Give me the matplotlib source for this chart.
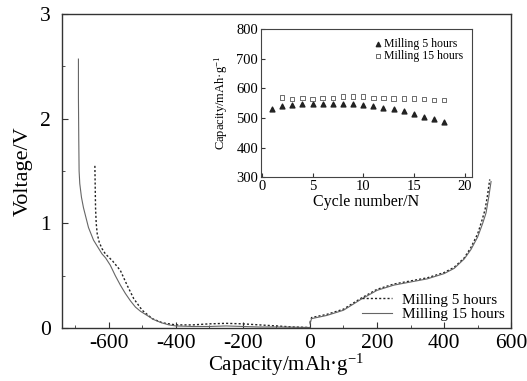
import numpy as np
import matplotlib.pyplot as plt

plt.rcParams['font.family'] = ['Liberation Serif', 'DejaVu Serif']
plt.rcParams['mathtext.fontset'] = 'stix'
plt.rcParams['axes.unicode_minus'] = False

# main plot: discharge (negative capacity) and charge curves
cap15_dis = [-690, -690, -689, -688, -686, -681, -675, -660, -645, -620, -609, -595,
             -580, -565, -550, -535, -520, -505, -490, -465, -442, -420, -400, -350,
             -300, -250, -200, -150, -100, -50, 0]
v15_dis = [2.57, 2.2, 1.8, 1.5, 1.38, 1.25, 1.15, 0.96, 0.84, 0.71, 0.67, 0.6,
           0.5, 0.41, 0.33, 0.26, 0.2, 0.16, 0.13, 0.08, 0.05, 0.03, 0.02, 0.015,
           0.015, 0.02, 0.015, 0.01, 0.01, 0.008, 0.005]
cap5_dis = [-641, -640, -639, -637, -634, -628, -620, -610, -588, -565, -545, -525,
            -500, -470, -440, -400, -350, -300, -250, -200, -150, -100, -50, 0]
v5_dis = [1.55, 1.35, 1.15, 1.0, 0.9, 0.82, 0.76, 0.71, 0.64, 0.55, 0.41, 0.28,
          0.17, 0.09, 0.05, 0.03, 0.03, 0.04, 0.045, 0.04, 0.03, 0.02, 0.01, 0.005]

cap15_chg = [0, 5, 20, 50, 100, 150, 200, 250, 300, 350, 400, 430, 460, 480, 500,
             515, 525, 533, 540]
v15_chg = [0.04, 0.09, 0.1, 0.12, 0.17, 0.27, 0.36, 0.41, 0.44, 0.47, 0.52, 0.57,
           0.66, 0.75, 0.87, 1.0, 1.1, 1.25, 1.4]
cap5_chg = [0, 5, 20, 50, 100, 150, 200, 250, 300, 350, 400, 430, 460, 480, 500,
            512, 522, 530, 536]
v5_chg = [0.05, 0.1, 0.11, 0.13, 0.18, 0.28, 0.37, 0.42, 0.45, 0.48, 0.53, 0.58,
          0.67, 0.77, 0.9, 1.02, 1.13, 1.28, 1.42]

# inset: cycling capacity
cycles5 = list(range(1, 19))
capac5 = [530, 540, 545, 546, 549, 548, 547, 547, 547, 544, 541, 535, 530, 523,
          513, 505, 496, 486]
cycles15 = list(range(2, 19))
capac15 = [569, 564, 567, 565, 568, 568, 573, 573, 573, 568, 568, 566, 566, 566,
           564, 561, 561]

fig = plt.figure(figsize=(5.27, 3.81), dpi=100)
ax = fig.add_axes([0.117, 0.139, 0.853, 0.824])

l5, = ax.plot(cap5_dis, v5_dis, ls=(0, (1.5, 1.5)), color='#222222', lw=1.0)
ax.plot(cap5_chg, v5_chg, ls=(0, (1.5, 1.5)), color='#222222', lw=1.0)
l15, = ax.plot(cap15_dis, v15_dis, ls='-', color='#666666', lw=0.8)
ax.plot(cap15_chg, v15_chg, ls='-', color='#666666', lw=0.8)

ax.set_xlim(-740, 600)
ax.set_ylim(0, 3)
ax.set_xticks(np.arange(-600, 601, 200))
ax.set_xticks(np.arange(-700, 601, 100), minor=True)
ax.set_yticks([0, 1, 2, 3])
ax.set_yticks([0.5, 1.5, 2.5], minor=True)
ax.tick_params(direction='in', which='both', labelsize=15.5, color='#333333')
ax.tick_params(which='major', length=4, pad=4)
ax.tick_params(axis='y', which='major', pad=8)
ax.tick_params(which='minor', length=2.5)
ax.set_xlabel('Capacity/mAh·g$^{\\mathregular{-1}}$', fontsize=15, labelpad=-1)
ax.set_ylabel('Voltage/V', fontsize=16, labelpad=5)
for s in ax.spines.values():
    s.set_color('#333333')
    s.set_linewidth(1.0)
ax.legend([l5, l15], ['Milling 5 hours', 'Milling 15 hours'], loc='lower right',
          frameon=False, fontsize=11, handlelength=2.0, handletextpad=0.6,
          borderaxespad=0.05, labelspacing=0.05)

ins = fig.add_axes([0.495, 0.535, 0.400, 0.388])
ins.scatter(cycles5, capac5, marker='^', s=12, color='#222222', label='Milling 5 hours')
ins.scatter(cycles15, capac15, marker='s', s=10, facecolors='none',
            edgecolors='#555555', linewidths=0.6, label='Milling 15 hours')
ins.set_xlim(-0.1, 20.7)
ins.set_ylim(300, 800)
ins.set_xticks([0, 5, 10, 15, 20])
ins.set_yticks(np.arange(300, 801, 100))
ins.tick_params(direction='in', labelsize=10.5, length=3, pad=2, color='#333333')
ins.set_xlabel('Cycle number/N', fontsize=11.5, labelpad=1)
ins.set_ylabel('Capacity/mAh·g$^{\\mathregular{-1}}$', fontsize=9, labelpad=4)
for s in ins.spines.values():
    s.set_color('#444444')
    s.set_linewidth(0.8)
ins.legend(loc='upper right', frameon=False, fontsize=8.5, handletextpad=0.1,
           borderaxespad=0.3, labelspacing=0.05, handlelength=0.8, markerscale=0.9)

fig.savefig('out.png', dpi=100)
